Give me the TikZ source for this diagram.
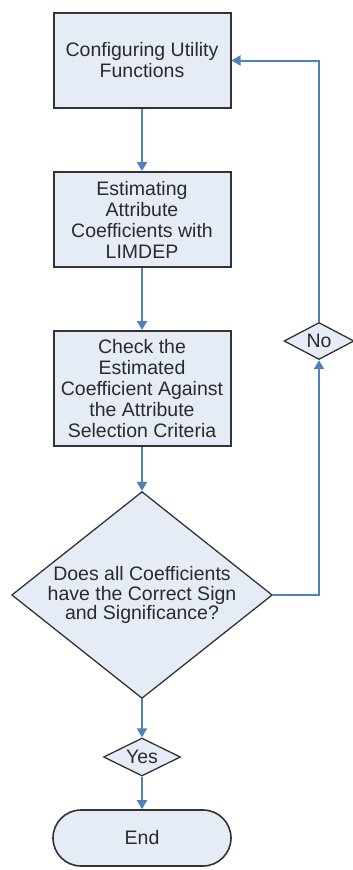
\documentclass[tikz,border=0pt]{standalone}
\usepackage{fontspec}
\setmainfont{Liberation Sans}
\usetikzlibrary{shapes.geometric,arrows.meta}
\definecolor{boxfill}{HTML}{E6ECF6}
\definecolor{boxline}{HTML}{333333}
\definecolor{arrowblue}{HTML}{4F81BD}
\definecolor{txt}{HTML}{2A2A2A}
\tikzset{
  procbox/.style={draw=boxline, line width=2pt, fill=boxfill, rectangle, minimum width=177pt, inner sep=0pt, align=center, text=txt, font=\fontsize{19.5}{21}\selectfont},
  decbox/.style={draw=boxline, line width=1.3pt, fill=boxfill, diamond, inner sep=0pt, align=center, text=txt, font=\fontsize{19.5}{19.5}\selectfont},
  endbox/.style={draw=boxline, line width=1.6pt, fill=boxfill, rectangle, rounded corners=28pt, minimum width=178pt, minimum height=56pt, inner sep=0pt, text=txt, font=\fontsize{19.5}{21}\selectfont},
  flow/.style={draw=arrowblue, line width=2pt, -{Triangle[width=10pt,length=9pt]}}
}
\begin{document}
\begin{tikzpicture}[x=1pt,y=-1pt]
\useasboundingbox (0,0) rectangle (353,870);
\node[procbox, minimum height=95pt] (b1) at (142,60.5) {Configuring Utility\\Functions};
\node[procbox, minimum height=95pt] (b2) at (142,219.5) {Estimating\\Attribute\\Coefficients with\\LIMDEP};
\node[procbox, minimum height=115pt] (b3) at (142,388.5) {Check the\\Estimated\\Coefficient Against\\the Attribute\\Selection Criteria};
\node[decbox, aspect=1.26, minimum width=260pt, minimum height=206pt] (dec) at (142,595) {Does all Coefficients\\have the Correct Sign\\and Significance?};
\node[decbox, aspect=2, minimum width=77pt, minimum height=38pt] (yes) at (142,757) {Yes};
\node[endbox] (end) at (142,838) {End};
\node[decbox, aspect=2, minimum width=70pt, minimum height=37pt] (no) at (319,341) {No};
\draw[flow] (b1.south) -- (b2.north);
\draw[flow] (b2.south) -- (b3.north);
\draw[flow] (b3.south) -- (dec.north);
\draw[flow] (dec.south) -- (yes.north);
\draw[flow] (yes.south) -- (end.north);
\draw[flow] (dec.east) -| (no.south);
\draw[flow] (no.north) |- (b1.east);
\end{tikzpicture}
\end{document}
